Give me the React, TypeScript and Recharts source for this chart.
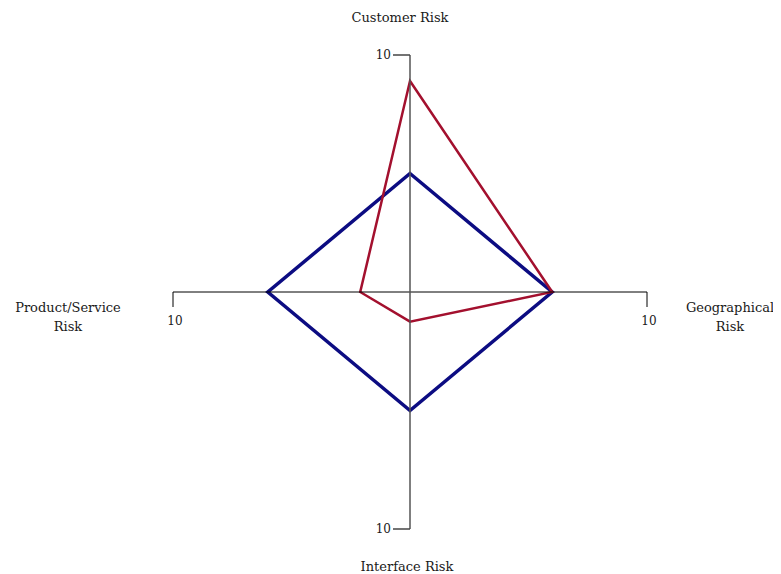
import React from 'react';
import { RadarChart, Radar, PolarAngleAxis, PolarRadiusAxis } from 'recharts';

const categories = ['Customer Risk', 'Geographical Risk', 'Interface Risk', 'Product/Service Risk'];
const seriesBlue = [5, 6, 5, 6];
const seriesRed = [8.9, 6, 1.25, 2.1];
const maxValue = 10;

const data = categories.map((c, i) => ({ name: c, blue: seriesBlue[i], red: seriesRed[i] }));

const FONT = 'DejaVu Serif';

const labelLayout: Record<string, { dx: number; dy: number; lines: string[] }> = {
  'Customer Risk': { dx: -10, dy: -29, lines: ['Customer Risk'] },
  'Geographical Risk': { dx: 75, dy: 16, lines: ['Geographical', 'Risk'] },
  'Interface Risk': { dx: -3, dy: 30, lines: ['Interface Risk'] },
  'Product/Service Risk': { dx: -97, dy: 16, lines: ['Product/Service', 'Risk'] },
};

const AngleTick = (props: any) => {
  const { x, y, payload } = props;
  const l = labelLayout[payload.value] || { dx: 0, dy: 0, lines: [payload.value] };
  return (
    <g>
      {l.lines.map((t, i) => (
        <text
          key={i}
          x={x + l.dx}
          y={y + l.dy + i * 19}
          textAnchor="middle"
          dominantBaseline="middle"
          fontFamily={FONT}
          fontSize={13}
          fill="#1a1a1a"
        >
          {t}
        </text>
      ))}
    </g>
  );
};

const makeRadiusTick = (vertical: boolean) => (props: any) => {
  const { x, y, payload } = props;
  if (payload.value !== maxValue) return <g />;
  if (vertical) {
    return (
      <g>
        <line x1={x - 17} y1={y} x2={x} y2={y} stroke="#444" strokeWidth={1.5} />
        <text x={x - 19} y={y} textAnchor="end" dominantBaseline="middle" fontFamily={FONT} fontSize={12} fill="#1a1a1a">
          {maxValue}
        </text>
      </g>
    );
  }
  return (
    <g>
      <line x1={x} y1={y} x2={x} y2={y + 15} stroke="#000" strokeWidth={1} />
      <text x={x + 2} y={y + 29} textAnchor="middle" dominantBaseline="middle" fontFamily={FONT} fontSize={12} fill="#1a1a1a">
        {maxValue}
      </text>
    </g>
  );
};

export default function App() {
  return (
    <RadarChart width={773} height={566} data={data} cx={402} cy={284} outerRadius={237} startAngle={90} endAngle={-270}>
      <PolarAngleAxis dataKey="name" axisLine={false} tickLine={false} tick={<AngleTick />} />
      <PolarRadiusAxis radiusAxisId={2} angle={0} domain={[0, maxValue]} axisLine={{ stroke: '#000', strokeWidth: 1 }} tick={makeRadiusTick(false)} tickLine={false} />
      <PolarRadiusAxis radiusAxisId={3} angle={180} domain={[0, maxValue]} axisLine={{ stroke: '#000', strokeWidth: 1 }} tick={makeRadiusTick(false)} tickLine={false} />
      <PolarRadiusAxis radiusAxisId={0} angle={90} domain={[0, maxValue]} axisLine={{ stroke: '#555', strokeWidth: 1.5 }} tick={makeRadiusTick(true)} tickLine={false} />
      <PolarRadiusAxis radiusAxisId={1} angle={270} domain={[0, maxValue]} axisLine={{ stroke: '#555', strokeWidth: 1.5 }} tick={makeRadiusTick(true)} tickLine={false} />
      <Radar radiusAxisId={1} dataKey="blue" stroke="none" strokeOpacity={0} fill="none" fillOpacity={0} isAnimationActive={false} />
      <Radar radiusAxisId={2} dataKey="blue" stroke="none" strokeOpacity={0} fill="none" fillOpacity={0} isAnimationActive={false} />
      <Radar radiusAxisId={3} dataKey="blue" stroke="none" strokeOpacity={0} fill="none" fillOpacity={0} isAnimationActive={false} />
      <Radar radiusAxisId={0} dataKey="blue" stroke="#0c0c82" strokeWidth={3.5} fill="none" fillOpacity={0} isAnimationActive={false} />
      <Radar radiusAxisId={0} dataKey="red" stroke="#a3102e" strokeWidth={2.5} fill="none" fillOpacity={0} isAnimationActive={false} />
    </RadarChart>
  );
}
